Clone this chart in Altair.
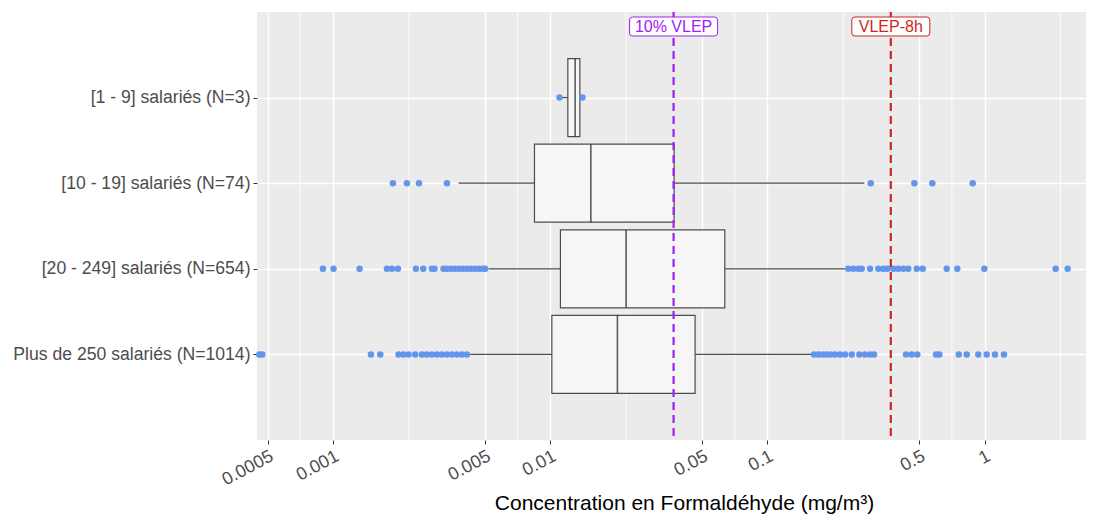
import altair as alt
import pandas as pd

# ---------------- data ----------------
categories = [
    "[1 - 9] salariés (N=3)",
    "[10 - 19] salariés (N=74)",
    "[20 - 249] salariés (N=654)",
    "Plus de 250 salariés (N=1014)",
]
whisker_low = [0.01104, 0.003784, 0.0052, 0.004284]
q1 = [0.01206, 0.008467, 0.01115, 0.01018]
median = [0.01303, 0.01539, 0.02237, 0.0204]
q3 = [0.0137, 0.0372, 0.06368, 0.04648]
whisker_high = [0.01408, 0.2795, 0.2279, 0.1628]

outliers_1_9 = [0.01104, 0.01408]
outliers_10_19 = [0.001888, 0.00219, 0.002488, 0.003347,
                  0.2991, 0.4749, 0.5745, 0.8814]
outliers_20_249 = [0.000899, 0.001006, 0.001326, 0.001772, 0.001869, 0.001991,
                   0.00241, 0.002604, 0.002855, 0.002935, 0.003228, 0.003357,
                   0.003503, 0.003655, 0.003813, 0.003978, 0.00415, 0.004331,
                   0.004518, 0.004713, 0.004917, 0.005022,
                   0.2359, 0.2488, 0.2623, 0.2719, 0.2969, 0.3243, 0.342,
                   0.3566, 0.38, 0.4007, 0.4226, 0.4456, 0.4871, 0.519,
                   0.6692, 0.7489, 0.9969, 2.124, 2.413]
outliers_250 = [0.000458, 0.000473, 0.001496, 0.001651, 0.002004, 0.002113,
                0.002228, 0.002391, 0.002568, 0.002708, 0.002855, 0.00301,
                0.003174, 0.003347, 0.003529, 0.003721, 0.003923, 0.004137,
                0.164, 0.1717, 0.1798, 0.1876, 0.1958, 0.2049, 0.2161, 0.2279,
                0.2446, 0.2651, 0.2816, 0.2969, 0.3097, 0.4348, 0.4618, 0.4902,
                0.5976, 0.6189, 0.7601, 0.8273, 0.9354, 1.0225, 1.1164, 1.228]

tick_values = [0.0005, 0.001, 0.005, 0.01, 0.05, 0.1, 0.5, 1]
minor_breaks = [0.000707, 0.002236, 0.007071, 0.02236, 0.07071, 0.2236, 0.7071, 2.236]

ref_values = [0.037, 0.37]
ref_labels = ["10% VLEP", "VLEP-8h"]
ref_colors = ["#A020F0", "#CD2626"]
ref_box_w = [88, 78]

x_domain = [0.000447, 2.93]

# ---------------- tables ----------------
stats = pd.DataFrame({
    "cat": categories, "lo": whisker_low, "q1": q1, "med": median,
    "q3": q3, "hi": whisker_high,
})
out_rows = []
for c, vals in zip(categories, [outliers_1_9, outliers_10_19, outliers_20_249, outliers_250]):
    for v in vals:
        out_rows.append({"cat": c, "v": v})
outliers = pd.DataFrame(out_rows)
minor = pd.DataFrame({"v": minor_breaks})

xscale = alt.Scale(type="log", domain=x_domain, nice=False, clamp=False)
yscale = alt.Scale(type="point", domain=categories, padding=1)

FONT = "Liberation Sans"

x_axis = alt.Axis(
    values=tick_values, format="~g", labelAngle=-28, labelAlign="right",
    labelBaseline="top", labelFontSize=18, labelColor="#4D4D4D", labelFont=FONT,
    labelPadding=3, tickColor="#333333", tickSize=4, domain=False,
    grid=True, gridColor="white", gridWidth=1.5,
    title="Concentration en Formaldéhyde (mg/m³)", titleFont=FONT,
    titleFontSize=21, titleFontWeight="normal", titleColor="black",
    titleX=427, titleY=69, titleAlign="center", titleBaseline="alphabetic",
)
y_axis = alt.Axis(
    labelFontSize=17.6, labelColor="#4D4D4D", labelFont=FONT, labelPadding=3,
    tickColor="#333333", tickSize=4, domain=False, grid=True,
    gridColor="white", gridWidth=1.5, title=None, labelLimit=400,
)

base_stats = alt.Chart(stats)

minor_grid = alt.Chart(minor).mark_rule(color="white", strokeWidth=0.8).encode(
    x=alt.X("v:Q", scale=xscale, axis=x_axis)
)

whiskers = base_stats.mark_rule(color="#4D4D4D", strokeWidth=1.3).encode(
    x=alt.X("lo:Q", scale=xscale),
    x2="hi:Q",
    y=alt.Y("cat:N", scale=yscale, axis=y_axis, sort=categories),
)

boxes = base_stats.mark_bar(size=78, fill="#F6F6F6", stroke="#4D4D4D",
                            strokeWidth=1.2).encode(
    x=alt.X("q1:Q", scale=xscale),
    x2="q3:Q",
    y=alt.Y("cat:N", scale=yscale, sort=categories),
)

medians = base_stats.mark_tick(size=78, thickness=1.6, color="#1A1A1A",
                               orient="vertical").encode(
    x=alt.X("med:Q", scale=xscale),
    y=alt.Y("cat:N", scale=yscale, sort=categories),
)

points = alt.Chart(outliers).mark_circle(size=42, color="#6495ED", opacity=1).encode(
    x=alt.X("v:Q", scale=xscale),
    y=alt.Y("cat:N", scale=yscale, sort=categories),
)

layers = [minor_grid, whiskers, boxes, medians, points]

for val, lab, col, bw in zip(ref_values, ref_labels, ref_colors, ref_box_w):
    d = pd.DataFrame({"v": [val], "label": [lab]})
    line = alt.Chart(d).mark_rule(color=col, strokeWidth=2.2,
                                  strokeDash=[8, 5]).encode(
        x=alt.X("v:Q", scale=xscale))
    h = 9.5 / (bw / 2)
    r = 3 / (bw / 2)
    path = (f"M{-1 + r},{-h} H{1 - r} Q1,{-h} 1,{-h + r} V{h - r} "
            f"Q1,{h} {1 - r},{h} H{-1 + r} Q-1,{h} -1,{h - r} V{-h + r} "
            f"Q-1,{-h} {-1 + r},{-h} Z")
    box = alt.Chart(d).mark_point(shape=path, size=bw * bw, filled=True,
                                  fill="white", stroke=col, strokeWidth=1,
                                  opacity=1, fillOpacity=1).encode(
        x=alt.X("v:Q", scale=xscale), y=alt.value(14.5))
    txt = alt.Chart(d).mark_text(color=col, fontSize=16, font=FONT,
                                 baseline="middle", align="center").encode(
        x=alt.X("v:Q", scale=xscale), y=alt.value(15), text="label:N")
    layers += [line, box, txt]

chart = alt.layer(*layers).properties(
    width=829, height=428,
    autosize=alt.AutoSizeParams(type="none"),
    padding={"left": 249, "top": 4, "right": 0, "bottom": 75},
    background="white",
).configure_view(fill="#EBEBEB", stroke=None)

chart.save("out.html", embed_options={"renderer": "svg", "actions": False})
